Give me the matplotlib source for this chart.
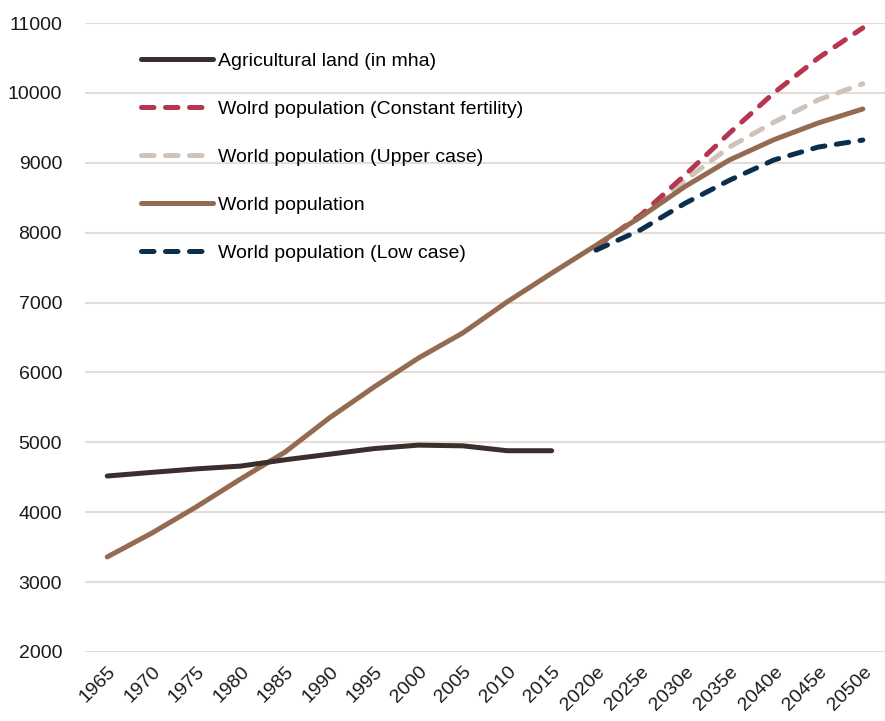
import numpy as np
import matplotlib.pyplot as plt

plt.rcParams['font.family'] = ['Liberation Sans', 'DejaVu Sans']

years = ['1965', '1970', '1975', '1980', '1985', '1990', '1995', '2000', '2005',
         '2010', '2015', '2020e', '2025e', '2030e', '2035e', '2040e', '2045e', '2050e']

# historical series (1965-2015)
agri_land = [4518, 4570, 4620, 4660, 4750, 4830, 4910, 4960, 4950, 4880, 4880]

# world population, history plus central projection
world_pop = [3360, 3700, 4075, 4475, 4860, 5350, 5790, 6205, 6565, 7010, 7420,
             7820, 8225, 8660, 9040, 9330, 9570, 9770]

# projection scenarios (2020e-2050e)
pop_const = [7800, 8250, 8825, 9425, 10000, 10500, 10930]
pop_upper = [7800, 8220, 8750, 9225, 9580, 9900, 10130]
pop_low = [7750, 8040, 8420, 8750, 9040, 9225, 9325]

c_agri = '#3b2e2c'
c_const = '#b5364e'
c_upper = '#cdc3bb'
c_pop = '#946a50'
c_low = '#0c2e4d'

x = np.arange(len(years))
xp = x[11:]

fig = plt.figure(figsize=(8.85, 7.21), dpi=100)
ax = fig.add_axes([85/885, 1-652/721, 800/885, 629/721])

lw = 3.6
dash = dict(lw=lw, dashes=(2.5, 2.3), dash_capstyle='round', solid_capstyle='round')
ax.plot(xp, pop_upper, color=c_upper, label='World population (Upper case)', zorder=3, **dash)
ax.plot(xp, pop_const, color=c_const, label='Wolrd population (Constant fertility)', zorder=4, **dash)
ax.plot(x, world_pop, color=c_pop, lw=lw, solid_capstyle='round', label='World population', zorder=5)
ax.plot(xp, pop_low, color=c_low, label='World population (Low case)', zorder=6, **dash)
ax.plot(x[:len(agri_land)], agri_land, color=c_agri, lw=lw, solid_capstyle='round',
        label='Agricultural land (in mha)', zorder=7)

ax.set_xlim(-0.5, len(years) - 0.5)
ax.set_ylim(2000, 11000)
ax.set_yticks(np.arange(2000, 11001, 1000))
ax.set_xticks(x)
ax.set_xticklabels(years, rotation=45, ha='right', va='top', rotation_mode='anchor')
ax.tick_params(axis='both', length=0, labelsize=14, colors='#1a1a1a')
ax.tick_params(axis='y', pad=16.5)
ax.tick_params(axis='x', pad=8)
ax.grid(axis='y', color='#e2ddd8', lw=1.5, zorder=0)
ax.set_axisbelow(True)
for s in ax.spines.values():
    s.set_visible(False)

h, l = ax.get_legend_handles_labels()
order = [4, 1, 0, 2, 3]
ax.legend([h[i] for i in order], [l[i] for i in order], loc='upper left',
          bbox_to_anchor=(0.06, 0.966), borderaxespad=0, frameon=False, fontsize=14,
          handlelength=3.7, handletextpad=0.25, labelspacing=1.56)

fig.savefig('out.png', dpi=100)
